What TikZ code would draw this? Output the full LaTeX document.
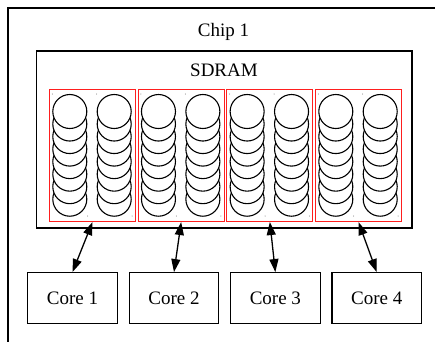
\documentclass[tikz,border=0pt]{standalone}
\usepackage{fontspec}
\setmainfont{Liberation Serif}
\usetikzlibrary{arrows.meta}
\definecolor{bankred}{RGB}{255,30,30}
\begin{document}
\begin{tikzpicture}[x=1pt,y=-1pt,
  lbl/.style={font=\fontsize{19}{22}\selectfont, inner sep=0pt},
  box/.style={draw, line width=1.3pt, minimum width=89.6pt, minimum height=50.6pt, inner sep=0pt, font=\fontsize{19}{22}\selectfont},
  bank/.style={draw=bankred, line width=1.1pt, minimum width=86pt, minimum height=132pt, inner sep=0pt},
  cell/.style={draw, fill=white, line width=1.1pt},
  link/.style={{Triangle[length=13pt,width=9pt]}-{Triangle[length=13pt,width=9pt]}, line width=1.3pt},
  pin/.style={fill=black!60}]
\useasboundingbox (0,0) rectangle (435,341);
\clip (0,0) rectangle (435,341);
\draw[line width=1.3pt] (8,8) rectangle (460,370);
\node[lbl, anchor=base] (chiplabel) at (223.5,36) {Chip 1};
\node[draw, line width=1.3pt, minimum width=375.3pt, minimum height=177pt, inner sep=0pt] (sdram) at (224.35,139.5) {};
\node[lbl, anchor=base] (sdramlabel) at (224,76.5) {SDRAM};
\foreach \k/\cx in {1/72.5,2/174,3/275.35,4/376.7}{
  \pgfmathsetmacro\bx{49.5+88.67*(\k-1)+43}
  \node[bank] (bank\k) at (\bx,155.5) {};
  \foreach \off in {20.8,65.2}{
    \pgfmathsetmacro\ccx{49+88.67*(\k-1)+\off}
    \foreach \i in {7,6,...,0}{
      \draw[cell] (\ccx,111.5+12.53*\i) circle[radius=17];
    }
    \fill[pin] (\ccx-17.5,94) circle[radius=0.5];
    \fill[pin] (\ccx+17.9,216) circle[radius=0.5];
  }
  \node[box] (core\k) at (\cx,298) {Core \k};
  \draw[link] (bank\k.south) -- (core\k.north);
}
\end{tikzpicture}
\end{document}
